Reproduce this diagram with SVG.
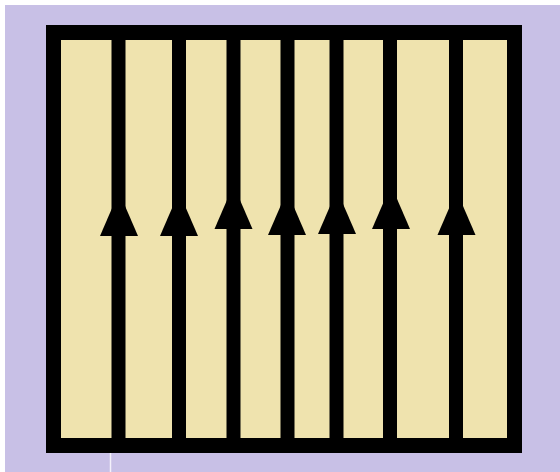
<svg xmlns="http://www.w3.org/2000/svg" width="560" height="472" viewBox="0 0 560 472">
  <style>
    .bar { stroke: #000; stroke-width: 14; fill: none; }
    .head { fill: #000; }
  </style>
  <defs>
    <polygon id="ah" class="head" points="0,-44 19,0 -19,0"/>
  </defs>
  <rect x="0" y="0" width="560" height="472" fill="#ffffff"/>
  <rect x="5" y="5" width="555" height="467" fill="#c8c0e6"/>
  <line x1="110.5" y1="453" x2="110.5" y2="472" stroke="#f4f1fb" stroke-width="1.5"/>
  <g id="frame">
    <rect x="53.5" y="32.5" width="461" height="413" fill="#efe3ae" stroke="#000" stroke-width="15"/>
  </g>
  <g id="connectors">
    <line class="bar" x1="118.5" y1="33" x2="118.5" y2="445"/>
    <line class="bar" x1="179" y1="33" x2="179" y2="445"/>
    <line class="bar" x1="233.5" y1="33" x2="233.5" y2="445"/>
    <line class="bar" x1="287.5" y1="33" x2="287.5" y2="445"/>
    <line class="bar" x1="336.5" y1="33" x2="336.5" y2="445"/>
    <line class="bar" x1="390" y1="33" x2="390" y2="445"/>
    <line class="bar" x1="456" y1="33" x2="456" y2="445"/>
    <use href="#ah" x="119" y="236"/>
    <use href="#ah" x="179" y="236"/>
    <use href="#ah" x="233.5" y="229"/>
    <use href="#ah" x="287" y="235"/>
    <use href="#ah" x="337" y="234"/>
    <use href="#ah" x="391" y="229"/>
    <use href="#ah" x="456.5" y="235"/>
  </g>
</svg>
